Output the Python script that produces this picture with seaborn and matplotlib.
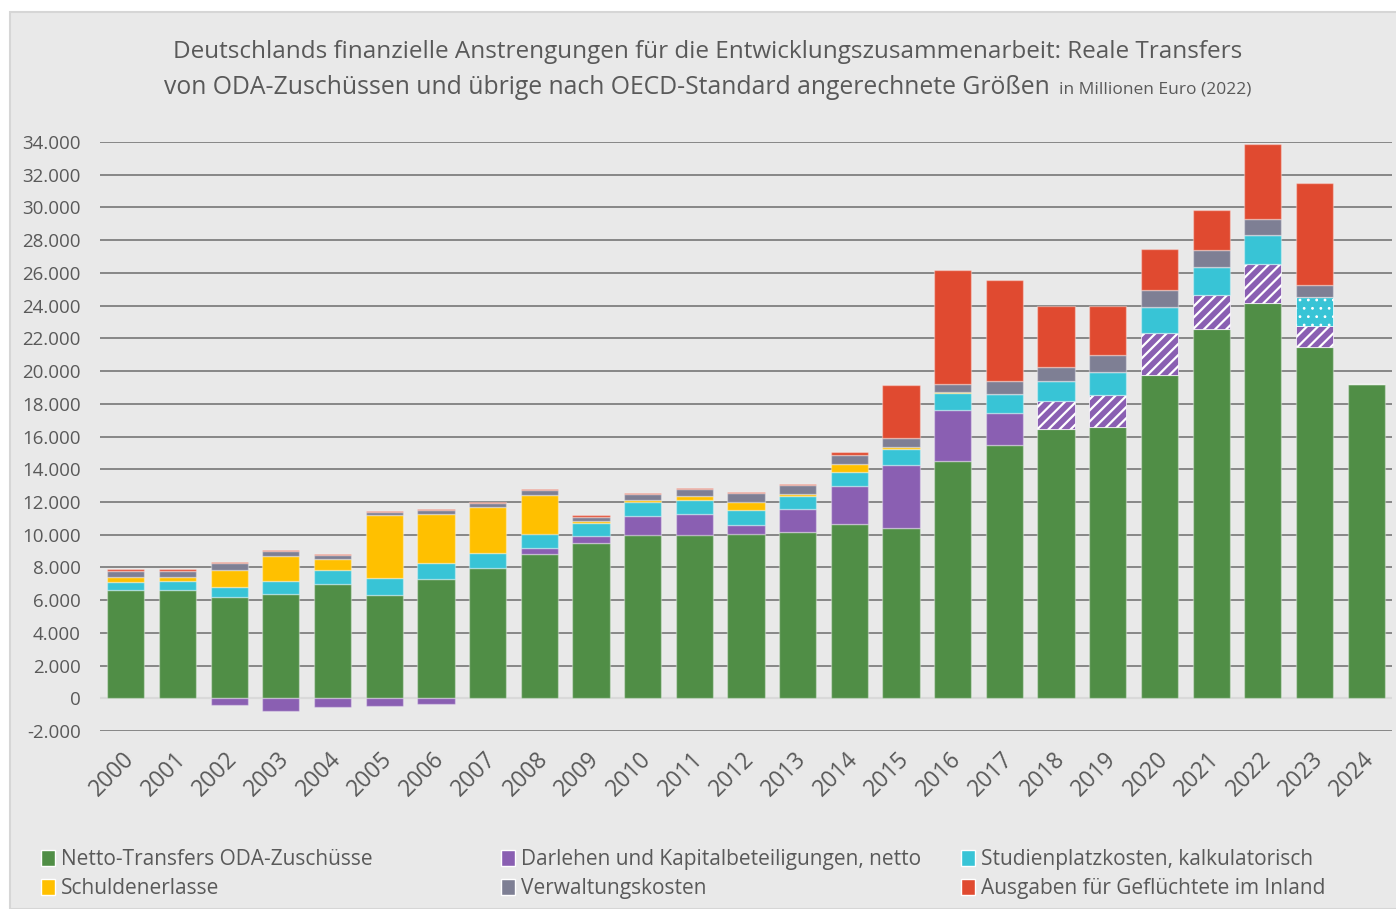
import matplotlib
matplotlib.use("Agg")
import matplotlib.pyplot as plt
from matplotlib.patches import Rectangle, Patch
from matplotlib.ticker import FuncFormatter, FixedLocator
import matplotlib.transforms as mtransforms
import numpy as np
import pandas as pd
import seaborn as sns

# ---- data (Mio. Euro, Preise 2022) ----
jahre = list(range(2000, 2025))
netto_oda = [6600, 6610, 6200, 6390, 7000, 6330, 7310, 7940, 8840, 9520,
             10000, 10000, 10030, 10170, 10680, 10420, 14490, 15470, 16430, 16610,
             19730, 22560, 24150, 21440, 19200]
darlehen = [0, 0, -430, -800, -530, -450, -350, 0, 350, 410,
            1140, 1280, 570, 1370, 2310, 3850, 3100, 1960, 1730, 1900,
            2570, 2060, 2370, 1290, 0]
studienplatz = [490, 550, 610, 750, 860, 1040, 980, 920, 860, 810,
                880, 840, 880, 840, 870, 980, 1080, 1160, 1260, 1460,
                1630, 1760, 1770, 1810, 0]
schulden = [330, 250, 1060, 1570, 630, 3810, 2980, 2830, 2390, 120,
            100, 240, 530, 120, 430, 100, 40, 0, 0, 0,
            0, 0, 0, 0, 0]
verwaltung = [370, 370, 370, 310, 290, 230, 260, 250, 260, 250,
              390, 410, 510, 510, 570, 570, 470, 810, 840, 1020,
              1020, 1010, 1020, 730, 0]
gefluechtete = [140, 120, 60, 40, 40, 40, 40, 60, 80, 80,
                60, 80, 60, 100, 170, 3220, 7010, 6160, 3690, 3000,
                2530, 2430, 4570, 6200, 0]
# Jahre mit schraffierter bzw. gepunkteter Darstellung
darlehen_schraffiert = [2018, 2019, 2020, 2021, 2022, 2023]
studienplatz_gepunktet = [2023]

y_ticks = list(range(-2000, 34001, 2000))

labels = ["Netto-Transfers ODA-Zuschüsse", "Schuldenerlasse",
          "Darlehen und Kapitalbeteiligungen, netto", "Verwaltungskosten",
          "Studienplatzkosten, kalkulatorisch", "Ausgaben für Geflüchtete im Inland"]
c_green, c_yellow, c_purple, c_gray, c_cyan, c_red = (
    "#508e46", "#ffc000", "#8a5fb2", "#7e7f94", "#38c4d6", "#e04a30")

sns.set_theme(style="white")
plt.rcParams["font.family"] = ["Open Sans", "DejaVu Sans"]

BG = "#e9e9e9"
TXT = "#595959"

fig = plt.figure(figsize=(13.96, 9.09), dpi=100, facecolor="white")
fig.patches.append(Rectangle((10 / 1396, 0), 1.2, (909 - 12) / 909, transform=fig.transFigure,
                             facecolor=BG, edgecolor="#d6d6d6", linewidth=1.5, zorder=-10))

ax = fig.add_axes([100 / 1396, 1 - 731 / 909, 1292 / 1396, (731 - 142) / 909])
ax.set_facecolor("none")

df = pd.DataFrame({"Jahr": [str(j) for j in jahre], "Netto": netto_oda})
x = np.arange(len(jahre))
w = 0.72
edge = (1, 1, 1, 0.35)

sns.barplot(data=df, x="Jahr", y="Netto", color=c_green, width=w, saturation=1,
            edgecolor=edge, linewidth=1, ax=ax, zorder=3)

darl = np.array(darlehen, dtype=float)
pos_darl = np.where(darl > 0, darl, 0)
neg_darl = np.where(darl < 0, darl, 0)

bottom = np.array(netto_oda, dtype=float)
# loans: positive part stacked, negative part below zero
for i, j in enumerate(jahre):
    if pos_darl[i] > 0:
        if j in darlehen_schraffiert:
            with plt.rc_context({"hatch.linewidth": 1.6}):
                ax.bar(x[i], pos_darl[i], w, bottom=bottom[i], color=c_purple,
                       edgecolor="white", linewidth=0.5, hatch="///", zorder=3)
        else:
            ax.bar(x[i], pos_darl[i], w, bottom=bottom[i], color=c_purple,
                   edgecolor=edge, linewidth=1, zorder=3)
    if neg_darl[i] < 0:
        ax.bar(x[i], neg_darl[i], w, bottom=0, color=c_purple,
               edgecolor=edge, linewidth=1, zorder=3)
bottom = bottom + pos_darl

for i, j in enumerate(jahre):
    if studienplatz[i] > 0:
        if j in studienplatz_gepunktet:
            with plt.rc_context({"hatch.linewidth": 0.8}):
                ax.bar(x[i], studienplatz[i], w, bottom=bottom[i], color=c_cyan,
                       edgecolor="white", linewidth=0.5, hatch="..", zorder=3)
        else:
            ax.bar(x[i], studienplatz[i], w, bottom=bottom[i], color=c_cyan,
                   edgecolor=edge, linewidth=1, zorder=3)
bottom = bottom + np.array(studienplatz)

for vals, col in [(schulden, c_yellow), (verwaltung, c_gray), (gefluechtete, c_red)]:
    v = np.array(vals, dtype=float)
    ax.bar(x, v, w, bottom=bottom, color=col, edgecolor=edge, linewidth=1, zorder=3)
    bottom = bottom + v

# grid
for t in y_ticks:
    if t == 0:
        ax.axhline(t, color="#d9d9d9", linewidth=1.6, zorder=2)
    else:
        ax.axhline(t, color="#878787", linewidth=1.4, zorder=1)

ax.set_xlim(-0.5, len(jahre) - 0.5)
ax.set_ylim(-2000, 34000)
ax.yaxis.set_major_locator(FixedLocator(y_ticks))
ax.yaxis.set_major_formatter(FuncFormatter(lambda v, p: f"{v:,.0f}".replace(",", ".")))
for s in ax.spines.values():
    s.set_visible(False)
ax.set_xlabel("")
ax.set_ylabel("")
ax.tick_params(axis="y", length=0, pad=14, labelsize=13.5, labelcolor=TXT)
ax.tick_params(axis="x", length=0, pad=4, labelsize=16.5, labelcolor=TXT)
ax.set_xticks(x)
ax.set_xticklabels([str(j) for j in jahre], rotation=45, ha="right", va="center",
                   rotation_mode="anchor")
shift = mtransforms.ScaledTranslation(0.05, -0.19, fig.dpi_scale_trans)
for lab in ax.get_xticklabels():
    lab.set_transform(lab.get_transform() + shift)

# title
fig.text(708 / 1396, 1 - 52 / 909, "Deutschlands finanzielle Anstrengungen für die Entwicklungszusammenarbeit: Reale Transfers",
         ha="center", va="center", fontsize=17.5, color=TXT)
renderer = fig.canvas.get_renderer()
t_main = fig.text(0, 1 - 88 / 909, "von ODA-Zuschüssen und übrige nach OECD-Standard angerechnete Größen",
                  ha="left", va="center", fontsize=17.8, color=TXT)
t_small = fig.text(0, 1 - 90 / 909, "  in Millionen Euro (2022)", ha="left", va="center",
                   fontsize=12.5, color=TXT)
w_main = t_main.get_window_extent(renderer).width
w_small = t_small.get_window_extent(renderer).width
start = 708 - (w_main + w_small) / 2
t_main.set_x(start / 1396)
t_small.set_x((start + w_main) / 1396)

# legend: three columns
cols = [(labels[0], c_green, labels[1], c_yellow),
        (labels[2], c_purple, labels[3], c_gray),
        (labels[4], c_cyan, labels[5], c_red)]
for xs, (l1, col1, l2, col2) in zip([31, 491, 951], cols):
    handles = [Patch(facecolor=col1, label=l1), Patch(facecolor=col2, label=l2)]
    fig.legend(handles=handles, loc="upper left", bbox_to_anchor=(xs / 1396, 1 - 839 / 909),
               frameon=False, fontsize=15, labelcolor=TXT, handlelength=0.65,
               handleheight=0.8, handletextpad=0.3, labelspacing=0.38, borderpad=0)

fig.savefig("out.png", dpi=100, facecolor="white")
